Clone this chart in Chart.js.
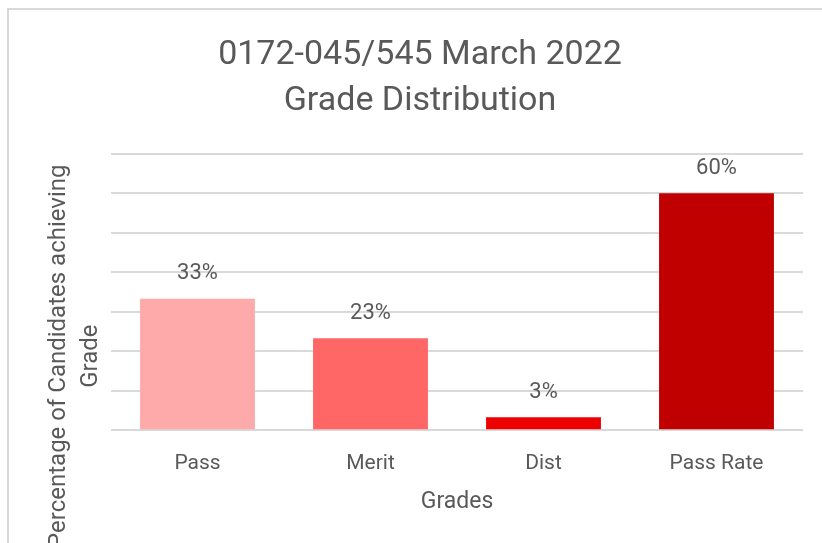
<!DOCTYPE html>
<html>
<head>
<meta charset="utf-8">
<script src="https://cdn.jsdelivr.net/npm/chart.js@4"></script>
<style>
  html, body { margin: 0; padding: 0; background: #fff; overflow: hidden; }
  #wrap { position: relative; width: 822px; height: 543px; }
  #frame { position: absolute; left: 7px; top: 8px; width: 900px; height: 700px; border: 2px solid #d9d9d9; }
  canvas { position: absolute; left: 0; top: 0; }
</style>
</head>
<body>
<div id="wrap">
  <div id="frame"></div>
  <canvas id="myChart" width="822" height="543"></canvas>
</div>
<script>
// chart data
const grades = ['Pass', 'Merit', 'Dist', 'Pass Rate'];
const percentages = [33.3, 23.3, 3.3, 60];
const barColours = ['#ffaaaa', '#ff6666', '#ee0000', '#c00000'];
const titleLines = ['0172-045/545 March 2022', 'Grade Distribution'];
const yTitleLines = ['Percentage of Candidates achieving', 'Grade'];
const xTitle = 'Grades';

const textColour = '#595959';
Chart.defaults.font.family = 'Roboto';
Chart.defaults.color = textColour;

// draws the % labels above each bar
const barLabels = {
  id: 'barLabels',
  afterDatasetsDraw(chart) {
    let ctx = chart.ctx;
    let meta = chart.getDatasetMeta(0);
    ctx.save();
    ctx.font = '22px Roboto';
    ctx.fillStyle = textColour;
    ctx.textAlign = 'center';
    ctx.textBaseline = 'middle';
    meta.data.forEach((bar, i) => {
      ctx.fillText(Math.round(percentages[i]) + '%', bar.x, bar.y - 25);
    });
    ctx.restore();
  }
};

// y axis title sits lower than the plot centre, like the excel original
const yTitle = {
  id: 'yTitle',
  afterDraw(chart) {
    let ctx = chart.ctx;
    let area = chart.chartArea;
    ctx.save();
    ctx.translate(area.left - 36, area.bottom - 74);
    ctx.rotate(-Math.PI / 2);
    ctx.font = '24px Roboto';
    ctx.fillStyle = textColour;
    ctx.textAlign = 'center';
    ctx.textBaseline = 'middle';
    ctx.fillText(yTitleLines[0], 0, -16);
    ctx.fillText(yTitleLines[1], 0, 16);
    ctx.restore();
  }
};

let ctx = document.getElementById('myChart').getContext('2d');
let myChart = new Chart(ctx, {
  type: 'bar',
  data: {
    labels: grades,
    datasets: [{
      data: percentages,
      backgroundColor: barColours,
      categoryPercentage: 1,
      barPercentage: 0.664
    }]
  },
  options: {
    responsive: false,
    animation: false,
    layout: {
      padding: { left: 37, right: 19, top: 0, bottom: 0 }
    },
    plugins: {
      legend: { display: false },
      tooltip: { enabled: false },
      title: {
        display: true,
        text: titleLines,
        color: textColour,
        font: { size: 34, weight: 'normal', lineHeight: 1.35 },
        padding: { top: 33, bottom: 29 }
      }
    },
    scales: {
      x: {
        grid: { display: false, drawTicks: false },
        border: { display: false },
        ticks: { font: { size: 21 }, padding: 21 },
        title: {
          display: true,
          text: xTitle,
          font: { size: 23 },
          padding: { top: -9, bottom: 27 }
        }
      },
      y: {
        min: 0,
        max: 70,
        ticks: { display: false, stepSize: 10 },
        grid: { color: '#d9d9d9', lineWidth: 2, drawTicks: false },
        border: { display: false },
        afterFit(scale) { scale.width = 74; }
      }
    }
  },
  plugins: [barLabels, yTitle]
});
</script>
</body>
</html>
